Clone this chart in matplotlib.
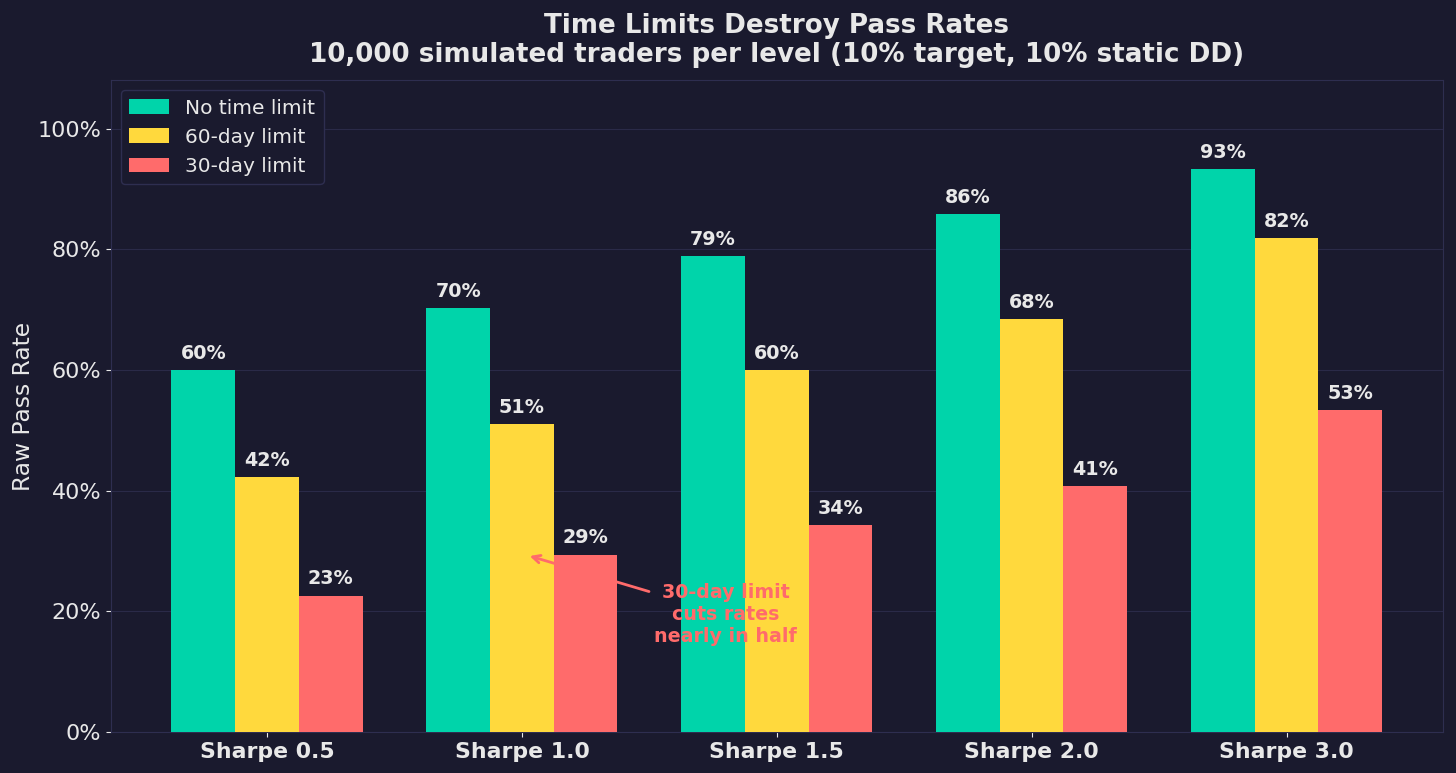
import numpy as np
import matplotlib.pyplot as plt
from matplotlib.ticker import FuncFormatter

# データ
sharpe_labels = ['Sharpe 0.5', 'Sharpe 1.0', 'Sharpe 1.5', 'Sharpe 2.0', 'Sharpe 3.0']
no_limit = [60.0, 70.3, 78.9, 85.8, 93.3]
limit_60 = [42.2, 51.0, 60.0, 68.4, 81.9]
limit_30 = [22.6, 29.4, 34.3, 40.7, 53.4]

series = [
    ('No time limit', no_limit, '#00d4aa'),
    ('60-day limit', limit_60, '#ffd93d'),
    ('30-day limit', limit_30, '#ff6b6b'),
]

bg = '#1a1a2e'
txt = '#e8e8e8'
edge = '#2e2e50'

fig = plt.figure(figsize=(14.56, 7.73), dpi=100, facecolor=bg)
ax = fig.add_axes([0.0762, 0.053, 0.9146, 0.843])
ax.set_facecolor(bg)

x = np.arange(len(sharpe_labels))
w = 0.25
for i, (name, vals, col) in enumerate(series):
    bars = ax.bar(x + (i - 1) * w, vals, w, color=col, label=name, zorder=3)
    for b, v in zip(bars, vals):
        ax.text(b.get_x() + b.get_width() / 2, v + 1.2, f'{v:.0f}%',
                ha='center', va='bottom', color=txt, fontsize=13.8, fontweight='bold', zorder=4)

ax.set_ylim(0, 108)
ax.set_yticks(range(0, 101, 20))
ax.yaxis.set_major_formatter(FuncFormatter(lambda v, p: f'{v:.0f}%'))
ax.set_xticks(x)
ax.set_xticklabels(sharpe_labels, fontsize=15.8, fontweight='bold', color=txt)
ax.tick_params(axis='y', colors=txt, labelsize=16)
ax.tick_params(axis='x', colors=txt)
ax.set_ylabel('Raw Pass Rate', color=txt, fontsize=16.8, labelpad=2)
ax.grid(axis='y', color='#2a2a48', linewidth=0.8, zorder=0)
for s in ax.spines.values():
    s.set_color(edge)

ax.set_title('Time Limits Destroy Pass Rates\n10,000 simulated traders per level (10% target, 10% static DD)',
             color=txt, fontsize=18.8, fontweight='bold', pad=13, linespacing=1.15)

ax.annotate('30-day limit\ncuts rates\nnearly in half', xy=(1.02, 29.3), xytext=(1.80, 19.5),
            color='#ff6b6b', fontsize=13.7, fontweight='bold', ha='center', va='center',
            arrowprops=dict(arrowstyle='->', color='#ff6b6b', lw=2), zorder=5)

leg = ax.legend(loc='upper left', fontsize=14.5, facecolor=bg, edgecolor=edge, labelcolor=txt,
                framealpha=1)

plt.savefig('out.png', dpi=100, facecolor=bg)
